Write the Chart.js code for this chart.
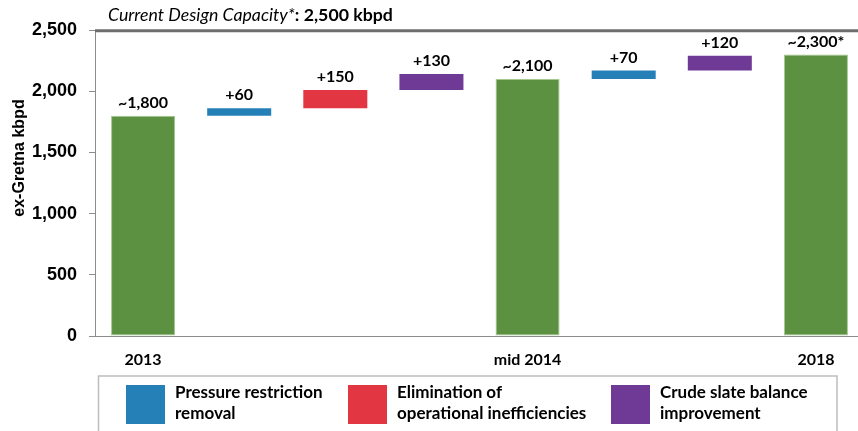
<!DOCTYPE html>
<html>
<head>
<meta charset="utf-8">
<script src="https://cdn.jsdelivr.net/npm/chart.js@4.4.1/dist/chart.umd.min.js"></script>
<style>
  html, body { margin: 0; padding: 0; overflow: hidden; background: #fff; }
  #wrap { width: 880px; height: 431px; }
</style>
</head>
<body>
<div id="wrap"><canvas id="c" width="880" height="431"></canvas></div>
<script>
// ---- data ----
const categories = ['2013', 'Pressure restriction removal', 'Elimination of operational inefficiencies', 'Crude slate balance improvement', 'mid 2014', 'Pressure restriction removal', 'Crude slate balance improvement', '2018'];
const axisLabels = ['2013', '', '', '', 'mid 2014', '', '', '2018'];
const barStarts = [0, 1800, 1860, 2010, 0, 2100, 2170, 0];
const barEnds = [1800, 1860, 2010, 2140, 2100, 2170, 2290, 2300];
const barLabels = ['~1,800', '+60', '+150', '+130', '~2,100', '+70', '+120', '~2,300*'];
const barTypes = ['total', 'pressure', 'inefficiency', 'crude', 'total', 'pressure', 'crude', 'total'];
const yTicks = [0, 500, 1000, 1500, 2000, 2500];
const capacityValue = 2500;
const capacityTitleItalic = 'Current Design Capacity*';
const capacityTitleBold = ': 2,500 kbpd';
const yAxisTitle = 'ex-Gretna kbpd';
const legendTypes = ['pressure', 'inefficiency', 'crude'];
const legendLines = [['Pressure restriction', 'removal'], ['Elimination of', 'operational inefficiencies'], ['Crude slate balance', 'improvement']];

// ---- styles ----
const typeColors = { total: '#5B9140', pressure: '#2680B8', inefficiency: '#E23742', crude: '#6E3A96' };
const typeBorders = { total: '#A3C890', pressure: '#2680B8', inefficiency: '#E23742', crude: '#6E3A96' };
const calFont = 'Lato, "Open Sans", sans-serif';
const arialFont = '"Liberation Sans", Arial, sans-serif';

const overlay = {
  id: 'overlay',
  afterDatasetsDraw(chart) {
    const ctx = chart.ctx;
    const area = chart.chartArea;
    const y = chart.scales.y;
    // capacity line
    const cy = y.getPixelForValue(capacityValue) + 0.8;
    ctx.save();
    ctx.strokeStyle = '#6E6E6E';
    ctx.lineWidth = 3;
    ctx.beginPath();
    ctx.moveTo(area.left, cy);
    ctx.lineTo(chart.width, cy);
    ctx.stroke();
    // capacity title, sized so it spans the same width as the original
    ctx.fillStyle = '#000';
    ctx.textBaseline = 'middle';
    ctx.textAlign = 'left';
    const measure = (s) => {
      ctx.font = 'italic ' + s + 'px ' + calFont;
      const a = ctx.measureText(capacityTitleItalic).width;
      ctx.font = 'bold ' + s + 'px ' + calFont;
      const b = ctx.measureText(capacityTitleBold).width;
      return [a, b];
    };
    let [wa, wb] = measure(16);
    let fs = Math.min(19, Math.max(14, 16 * 285 / (wa + wb)));
    [wa, wb] = measure(fs);
    const tx = 108;
    ctx.font = 'italic ' + fs + 'px ' + calFont;
    ctx.fillText(capacityTitleItalic, tx, 15);
    ctx.font = 'bold ' + fs + 'px ' + calFont;
    ctx.fillText(capacityTitleBold, tx + wa, 15);

    // bar labels
    const meta = chart.getDatasetMeta(0);
    ctx.font = 'bold 16px ' + calFont;
    ctx.textAlign = 'center';
    meta.data.forEach((el, i) => {
      ctx.fillText(barLabels[i], el.x, el.y - 13);
    });

    // y axis title
    ctx.save();
    ctx.translate(20, 158);
    ctx.rotate(-Math.PI / 2);
    ctx.font = 'bold 16px ' + arialFont;
    ctx.textAlign = 'center';
    ctx.fillText(yAxisTitle, 0, 0);
    ctx.restore();

    // legend box
    ctx.strokeStyle = '#BDBDBD';
    ctx.lineWidth = 1.5;
    ctx.strokeRect(98.5, 376, 738.5, 70);
    const swX = [126, 348, 611];
    const txX = [175, 397, 660];
    ctx.textAlign = 'left';
    ctx.font = 'bold 17px ' + calFont;
    legendTypes.forEach((t, i) => {
      ctx.fillStyle = typeColors[t];
      ctx.fillRect(swX[i], 385, 39, 39);
      ctx.fillStyle = '#000';
      ctx.fillText(legendLines[i][0], txX[i], 393);
      ctx.fillText(legendLines[i][1], txX[i], 414);
    });
    ctx.restore();
  }
};

new Chart(document.getElementById('c'), {
  type: 'bar',
  data: {
    labels: axisLabels,
    datasets: [{
      label: 'kbpd',
      data: barStarts.map((s, i) => [s, barEnds[i]]),
      backgroundColor: barTypes.map(t => typeColors[t]),
      borderColor: barTypes.map(t => typeBorders[t]),
      borderWidth: barTypes.map(t => t === 'total' ? 1 : 0),
      borderSkipped: false,
      barPercentage: 0.666,
      categoryPercentage: 1.0
    }]
  },
  options: {
    responsive: false,
    devicePixelRatio: 1,
    animation: false,
    layout: { padding: { top: 30, right: 16, left: 0, bottom: 0 } },
    plugins: { legend: { display: false }, tooltip: { enabled: false }, title: { display: false } },
    scales: {
      x: {
        afterFit(scale) { scale.height = 95; },
        grid: { display: false, drawTicks: false },
        border: { display: true, color: '#8C8C8C', width: 1 },
        ticks: {
          autoSkip: false, maxRotation: 0, padding: 14, color: '#000',
          font: { family: calFont, size: 16, weight: 'bold' }
        }
      },
      y: {
        min: 0, max: 2500,
        afterFit(scale) { scale.width = 95; },
        afterBuildTicks(scale) { scale.ticks = yTicks.map(v => ({ value: v })); },
        grid: { drawOnChartArea: false, drawTicks: true, tickLength: 6, color: '#8C8C8C' },
        border: { display: true, color: '#8C8C8C', width: 1 },
        ticks: {
          padding: 12, color: '#000',
          font: { family: arialFont, size: 18, weight: 'bold' },
          callback: v => v.toLocaleString('en-US')
        }
      }
    }
  },
  plugins: [overlay]
});
</script>
</body>
</html>
